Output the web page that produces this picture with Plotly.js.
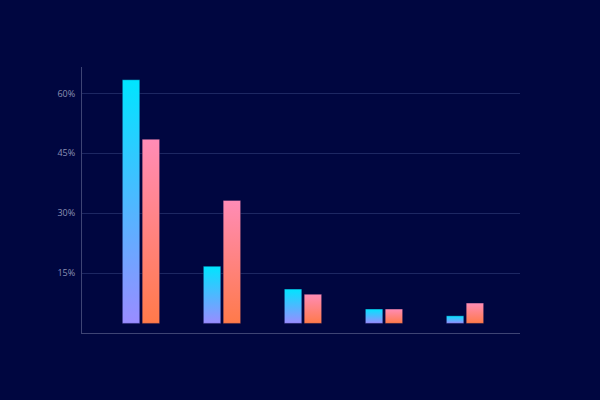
<!DOCTYPE html>
<html>
<head>
<meta charset="utf-8">
<script src="https://cdn.plot.ly/plotly-3.0.1.min.js"></script>
<style>
  html, body { margin: 0; padding: 0; background: #000640; }
  #myDiv { width: 600px; height: 400px; }
</style>
</head>
<body>
<div id="myDiv"></div>
<script>
/* global Plotly */

// Chart data (percent)
const categories = ['A', 'B', 'C', 'D', 'E'];
const seriesOne = [63.4, 16.7, 11.0, 6.0, 4.3];
const seriesTwo = [48.5, 33.2, 9.7, 6.0, 7.5];
const barBase = 2.4; // bars float slightly above the axis
const tickValues = [15, 30, 45, 60];
const tickLabels = ['15%', '30%', '45%', '60%'];

function runPlot() {
    'use strict';

    const barWidth = 0.215;
    const halfGap = 0.015;

    // Gradients run bottom -> top for each bar
    const cyanScale = [[0, '#9a8cff'], [1, '#00e5ff']];
    const pinkScale = [[0, '#ff7a4a'], [1, '#ff8cb6']];

    let traces = [];

    // One filled trace per bar so each gets its own gradient
    function addBar(i, value, left, scale) {
        let x0 = i + left;
        let x1 = x0 + barWidth;
        traces.push({
            type: 'scatter',
            mode: 'lines',
            x: [x0, x1, x1, x0, x0],
            y: [barBase, barBase, value, value, barBase],
            fill: 'toself',
            fillgradient: {type: 'vertical', colorscale: scale},
            line: {width: 0.6, color: 'rgba(0,6,64,0.6)'},
            hoverinfo: 'skip',
            showlegend: false
        });
    }

    categories.forEach(function(cat, i) {
        addBar(i, seriesOne[i], -halfGap - barWidth, cyanScale);
        addBar(i, seriesTwo[i], halfGap, pinkScale);
    });

    let layout = {
        width: 600,
        height: 400,
        paper_bgcolor: '#000640',
        plot_bgcolor: '#000640',
        margin: {l: 82, r: 80, t: 67, b: 67, pad: 0},
        font: {family: 'Open Sans, sans-serif', color: '#8a8fb2', size: 9},
        showlegend: false,

        xaxis: {
            range: [-0.728, 4.679],
            showgrid: false,
            zeroline: false,
            showticklabels: false,
            ticks: '',
            showline: true,
            linecolor: '#3e4474',
            linewidth: 1
        },

        yaxis: {
            range: [0, 66.6],
            tickvals: tickValues,
            ticktext: tickLabels,
            ticks: '',
            ticklabelstandoff: 4,
            showgrid: true,
            gridcolor: '#1d2762',
            gridwidth: 1,
            zeroline: false,
            showline: true,
            linecolor: '#3e4474',
            linewidth: 1
        }
    };

    Plotly.newPlot('myDiv', traces, layout, {displayModeBar: false, staticPlot: true});
}

runPlot();
</script>
</body>
</html>
